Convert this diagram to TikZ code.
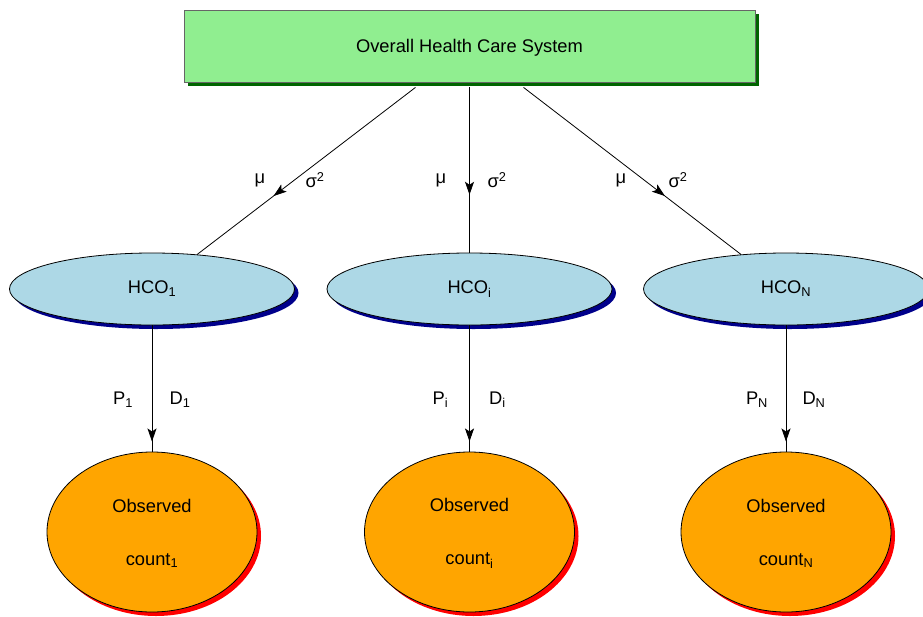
\documentclass[tikz,border=0pt]{standalone}
\usepackage{fontspec}
\setmainfont{Liberation Sans}
\usetikzlibrary{shapes.geometric,shadows,arrows.meta,decorations.markings}
\definecolor{sysgreen}{RGB}{144,238,144}
\definecolor{sysshadow}{RGB}{0,100,0}
\definecolor{hcoblue}{RGB}{173,216,230}
\definecolor{hcoshadow}{RGB}{0,0,139}
\definecolor{obsorange}{RGB}{255,165,0}
\definecolor{obsshadow}{RGB}{255,0,0}
\begin{document}
\begin{tikzpicture}[x=1pt,y=-1pt,draw=black,line width=0.8pt,
    >={Stealth[length=13pt,width=9pt,inset=3pt]},font=\fontsize{18.3}{22}\selectfont]
    \tikzstyle{system}=[rectangle,draw=black!60,fill=sysgreen,minimum width=571pt,minimum height=72pt,
        text depth=0pt,drop shadow={shadow xshift=4pt,shadow yshift=-4pt,fill=sysshadow,opacity=1}]
    \tikzstyle{hco}=[ellipse,draw=black,fill=hcoblue,inner sep=0pt,minimum width=285pt,minimum height=72pt,
        drop shadow={shadow xshift=4pt,shadow yshift=-4pt,fill=hcoshadow,opacity=1}]
    \tikzstyle{observed}=[ellipse,draw=black,fill=obsorange,inner sep=0pt,minimum width=210pt,minimum height=160pt,
        align=center,drop shadow={shadow xshift=4pt,shadow yshift=-4pt,fill=obsshadow,opacity=1}]
    \tikzstyle{upper link}=[postaction={decorate},
        decoration={markings,mark=at position 0.65 with {\arrow{>}}}]
    \tikzstyle{lower link}=[postaction={decorate},
        decoration={markings,mark=at position 0.92 with {\arrow{>}}}]

    \useasboundingbox (0,0) rectangle (923,616);

    % Top level
    \node[system] (sys) at (469.5,46) {Overall Health Care System};

    % One column per organisation
    \foreach \name/\x/\mx/\sx/\dx in {1/152/260/315/-54, i/469.5/441/497/0, N/786/621/678/54} {
        \node[hco] (hco-\name) at (\x,289) {HCO\textsubscript{\name}};
        \node[observed] (obs-\name) at (\x,532) {\\[-6pt]Observed\\[31pt]count\textsubscript{\name}};

        % parameters passed down from the system
        \draw[upper link] ([xshift=\dx pt,yshift=-5pt]sys.south) -- (hco-\name);
        \node (mu-\name) at (\mx,180) {μ};
        \node (sigma-\name) at (\sx,180) {σ\textsuperscript{2}};

        % parameters of the observed counts
        \draw[lower link] (hco-\name) -- (obs-\name);
        \node (p-\name) at (\x-29,400) {P\textsubscript{\name}};
        \node (d-\name) at (\x+28,400) {D\textsubscript{\name}};
    }
\end{tikzpicture}
\end{document}
